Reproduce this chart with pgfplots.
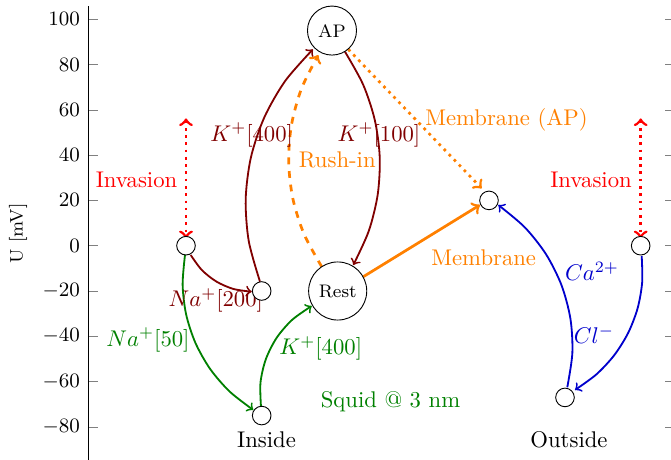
\documentclass[border=0pt]{standalone}
\usepackage{pgfplots}
\pgfplotsset{compat=1.18}
\definecolor{maroonc}{rgb}{0.5,0,0}
\definecolor{orangec}{rgb}{1,0.5,0}
\definecolor{greenc}{rgb}{0,0.5,0}
\definecolor{bluec}{rgb}{0,0,0.8}
\begin{document}
\begin{tikzpicture}
\begin{axis}[
  scale only axis, width=258.4pt, height=200.35pt,
  xmin=88, xmax=674.5, ymin=-95, ymax=105.8,
  hide x axis, clip=false,
  ytick={-80,-60,...,100},
  yticklabel style={font=\small},
  ylabel={U [mV]}, ylabel style={font=\footnotesize},
]
% arrows (x in picture units, y in mV)
\addplot[maroonc, thick, smooth, ->] coordinates {(260,-15.89) (248.76,2.02) (245.69,20.55) (250.91,38.99) (264.26,56.61) (285.18,72.74) (312.92,86.72)};
\addplot[orangec, very thick, dashed, smooth, ->] coordinates {(321.7,-9.27) (303.97,5.20) (292.81,20.89) (288.64,37.24) (291.61,53.64) (301.61,69.49) (318.28,84.20)};
\addplot[maroonc, thick, smooth, ->] coordinates {(345,85.65) (363.1,71.17) (374.81,55.47) (379.74,39.08) (377.71,22.57) (368.8,6.52) (353.31,-8.53)};
\addplot[maroonc, thick, smooth, ->] coordinates {(190.7,-4.11) (201.75,-10.70) (216.29,-15.81) (233.33,-19.09) (251.7,-20.31)};
\addplot[greenc, thick, smooth, ->] coordinates {(185,-4.11) (182.63,-17.27) (186.15,-30.38) (195.44,-42.93) (210.15,-54.43) (229.69,-64.42) (253.3,-72.53)};
\addplot[greenc, thick, smooth, ->] coordinates {(261,-71.08) (260.48,-60.50) (265.77,-50.19) (276.55,-40.74) (292.18,-32.72) (311.74,-26.60)};
\addplot[orangec, very thick, ->] coordinates {(363.3,-13.7) (480,18.0)};
\addplot[orangec, very thick, dotted, ->] coordinates {(348.3,86.7) (481.7,25.3)};
\addplot[bluec, thick, smooth, ->] coordinates {(567.3,-62.52) (572.36,-47.43) (570.42,-32.20) (561.54,-17.47) (546.1,-3.82) (524.72,8.15) (498.3,17.98)};
\addplot[bluec, thick, smooth, ->] coordinates {(641.7,-4.55) (642.17,-16.17) (637.62,-27.62) (628.2,-38.48) (614.26,-48.34) (596.31,-56.85) (575.02,-63.69)};
\addplot[red, very thick, dotted, <->] coordinates {(186,56.2) (186,3.3)};
\addplot[red, very thick, dotted, <->] coordinates {(640.7,56.2) (640.7,3.3)};
% states
\addplot[only marks, mark=*, mark size=4.1pt, mark options={draw=black, fill=white, line width=0.4pt}] coordinates {(186,0) (261.7,-20) (261.7,-75) (489,20) (640.7,0) (565,-67)};
\addplot[only marks, mark=*, mark size=10.8pt, mark options={draw=black, fill=white, line width=0.4pt},
  nodes near coords, point meta=explicit symbolic,
  every node near coord/.append style={anchor=center, font=\footnotesize, text=black}] table[meta=lab] {
x y lab
332 95 AP
};
\addplot[only marks, mark=*, mark size=12.8pt, mark options={draw=black, fill=white, line width=0.4pt},
  nodes near coords, point meta=explicit symbolic,
  every node near coord/.append style={anchor=center, font=\footnotesize, text=black}] table[meta=lab] {
x y lab
337.7 -20 Rest
};
% labels
\node[red] at (axis cs:136.5,29.2) {Invasion};
\node[red] at (axis cs:591,29.0) {Invasion};
\node[maroonc] at (axis cs:251.7,48.9) {$K^+[400]$};
\node[maroonc] at (axis cs:379,48.9) {$K^+[100]$};
\node[orangec] at (axis cs:337.3,37.8) {Rush-in};
\node[orangec] at (axis cs:506.5,55.5) {Membrane (AP)};
\node[orangec] at (axis cs:483.7,-5.3) {Membrane};
\node[maroonc] at (axis cs:215.8,-24) {$Na^+[200]$};
\node[greenc] at (axis cs:148,-41.6) {$Na^+[50]$};
\node[greenc] at (axis cs:320.8,-45.3) {$K^+[400]$};
\node[greenc] at (axis cs:390.5,-68.7) {Squid @ 3 nm};
\node at (axis cs:266.5,-85.8) {Inside};
\node at (axis cs:569,-85.8) {Outside};
\node[bluec] at (axis cs:592,-11.5) {$Ca^{2+}$};
\node[bluec] at (axis cs:594,-39.4) {$Cl^-$};
\coordinate (bbsw) at (axis cs:0,-94.2);
\coordinate (bbne) at (axis cs:671,108.5);
\end{axis}
\pgfresetboundingbox
\path[use as bounding box] (bbsw) rectangle (bbne);
\end{tikzpicture}
\end{document}
